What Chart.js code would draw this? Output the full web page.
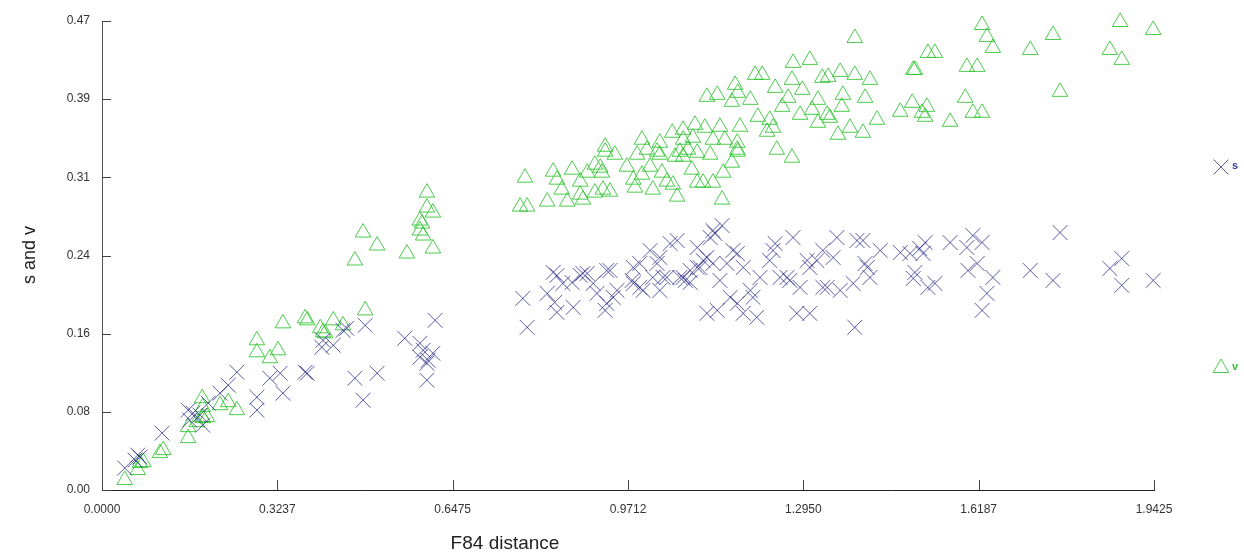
<!DOCTYPE html>
<html>
<head>
<meta charset="utf-8">
<script src="https://cdn.jsdelivr.net/npm/chart.js@4.4.1/dist/chart.umd.min.js"></script>
<style>
  html, body { margin: 0; padding: 0; background: #fff; }
  #wrap { width: 1244px; height: 554px; }
</style>
</head>
<body>
<div id="wrap"><canvas id="chart" width="1244" height="554"></canvas></div>
<script>
// Axis ranges and tick labels as printed on the reference
const X_MAX = 1.9425;
const Y_MAX = 0.47;
const xTickLabels = ['0.0000', '0.3237', '0.6475', '0.9712', '1.2950', '1.6187', '1.9425'];
const yTickLabels = ['0.00', '0.08', '0.16', '0.24', '0.31', '0.39', '0.47'];
const xTitle = 'F84 distance';
const yTitle = 's and v';
const seriesNames = ['s', 'v'];

// s (crosses): [F84 distance, value]
const sPoints = [
    [0.042, 0.022], [0.066, 0.035], [0.070, 0.033], [0.061, 0.030], [0.111, 0.057],
    [0.159, 0.080], [0.168, 0.077], [0.162, 0.070], [0.186, 0.065], [0.181, 0.075],
    [0.196, 0.087], [0.218, 0.097], [0.233, 0.105], [0.249, 0.118], [0.286, 0.093],
    [0.286, 0.080], [0.310, 0.112], [0.329, 0.117], [0.334, 0.097], [0.375, 0.118],
    [0.379, 0.117], [0.406, 0.143], [0.408, 0.150], [0.427, 0.145], [0.445, 0.160],
    [0.452, 0.162], [0.467, 0.112], [0.486, 0.165], [0.482, 0.090], [0.508, 0.117],
    [0.559, 0.152], [0.587, 0.147], [0.593, 0.140], [0.587, 0.133], [0.602, 0.130],
    [0.611, 0.137], [0.600, 0.110], [0.615, 0.170], [0.600, 0.127],
    [0.777, 0.192], [0.785, 0.163], [0.822, 0.197], [0.836, 0.188], [0.840, 0.178],
    [0.851, 0.207], [0.868, 0.208], [0.870, 0.183], [0.883, 0.215], [0.888, 0.217],
    [0.896, 0.217], [0.907, 0.207], [0.914, 0.197], [0.929, 0.180], [0.932, 0.187],
    [0.938, 0.220], [0.944, 0.193], [0.833, 0.218], [0.840, 0.215],
    [0.979, 0.210], [0.981, 0.207], [0.993, 0.227], [0.999, 0.200], [1.012, 0.240],
    [1.017, 0.213], [1.030, 0.233], [1.043, 0.213], [1.049, 0.247], [1.062, 0.250],
    [1.067, 0.213], [1.077, 0.210], [1.086, 0.220], [1.099, 0.243], [1.104, 0.223],
    [1.117, 0.233], [1.123, 0.253], [1.128, 0.227], [1.132, 0.257], [1.141, 0.210],
    [1.145, 0.265], [1.154, 0.227], [1.165, 0.240], [1.173, 0.237],
    [0.932, 0.220], [0.981, 0.223], [0.993, 0.203], [1.025, 0.227], [1.036, 0.213],
    [1.073, 0.213], [1.086, 0.208], [1.099, 0.223], [1.110, 0.230], [1.128, 0.260],
    [1.184, 0.223], [1.197, 0.200], [1.265, 0.213], [1.302, 0.230], [1.331, 0.203],
    [0.951, 0.200], [1.030, 0.200],
    [1.117, 0.177], [1.136, 0.180], [1.160, 0.193], [1.173, 0.187], [1.184, 0.177],
    [1.202, 0.193], [1.209, 0.173], [1.215, 0.213], [1.233, 0.230], [1.239, 0.240],
    [1.243, 0.247], [1.252, 0.213], [1.270, 0.210], [1.276, 0.253], [1.283, 0.177],
    [1.307, 0.177], [1.289, 0.203], [1.307, 0.223], [1.320, 0.230], [1.331, 0.240],
    [1.350, 0.233], [1.357, 0.253], [1.339, 0.203], [1.363, 0.200], [1.394, 0.250],
    [1.387, 0.207], [1.405, 0.250], [1.413, 0.223], [1.418, 0.213], [1.390, 0.163],
    [1.437, 0.240], [1.409, 0.227], [1.474, 0.238], [1.492, 0.237], [1.510, 0.242],
    [1.520, 0.248], [1.516, 0.237], [1.501, 0.218], [1.498, 0.212], [1.525, 0.203],
    [1.538, 0.207], [1.566, 0.248], [1.597, 0.243], [1.608, 0.255], [1.625, 0.248],
    [1.599, 0.220], [1.616, 0.227], [1.645, 0.213], [1.634, 0.197], [1.625, 0.180],
    [1.714, 0.220], [1.769, 0.258], [1.756, 0.210], [1.861, 0.222], [1.883, 0.232],
    [1.883, 0.205], [1.941, 0.210]
];

// v (triangles): [F84 distance, value]
const vPoints = [
    [0.042, 0.010], [0.066, 0.020], [0.070, 0.027], [0.076, 0.028], [0.107, 0.037],
    [0.113, 0.040], [0.159, 0.052], [0.159, 0.063], [0.175, 0.068], [0.185, 0.073],
    [0.186, 0.072], [0.194, 0.073], [0.185, 0.092], [0.186, 0.083], [0.218, 0.085],
    [0.233, 0.088], [0.249, 0.080], [0.286, 0.150], [0.286, 0.138], [0.310, 0.132],
    [0.325, 0.140], [0.334, 0.167], [0.375, 0.172], [0.379, 0.170], [0.403, 0.162],
    [0.408, 0.158], [0.412, 0.157], [0.427, 0.170], [0.445, 0.165], [0.486, 0.180],
    [0.467, 0.230], [0.482, 0.258], [0.508, 0.245], [0.563, 0.237], [0.600, 0.298],
    [0.600, 0.283], [0.611, 0.278], [0.587, 0.270], [0.591, 0.267], [0.587, 0.260],
    [0.593, 0.255], [0.611, 0.242],
    [0.781, 0.313], [0.772, 0.284], [0.785, 0.284], [0.822, 0.289], [0.833, 0.319],
    [0.840, 0.311], [0.849, 0.301], [0.859, 0.289], [0.868, 0.321], [0.883, 0.309],
    [0.883, 0.296], [0.888, 0.291], [0.896, 0.318], [0.910, 0.326], [0.910, 0.298],
    [0.923, 0.318], [0.938, 0.299], [0.929, 0.339], [0.947, 0.336], [0.925, 0.301],
    [0.920, 0.323], [0.929, 0.344], [0.969, 0.324], [0.981, 0.311], [0.988, 0.336],
    [0.984, 0.303], [0.997, 0.316], [0.997, 0.351], [1.006, 0.341], [1.017, 0.301],
    [1.012, 0.324], [1.030, 0.336], [1.030, 0.348], [1.034, 0.318], [1.043, 0.309],
    [1.054, 0.306], [1.062, 0.294], [1.058, 0.334], [1.073, 0.334], [1.053, 0.358],
    [1.073, 0.361], [1.095, 0.366], [1.113, 0.363], [1.141, 0.364], [1.178, 0.364],
    [1.073, 0.351], [1.091, 0.353], [1.128, 0.351], [1.150, 0.351], [1.173, 0.348],
    [1.174, 0.339], [1.025, 0.339], [1.067, 0.339], [1.082, 0.341], [1.099, 0.338],
    [1.123, 0.336], [1.163, 0.328], [1.089, 0.321], [1.099, 0.308], [1.110, 0.308],
    [1.128, 0.308], [1.145, 0.291], [1.147, 0.318], [1.173, 0.341], [1.246, 0.341],
    [1.274, 0.333],
    [1.117, 0.394], [1.136, 0.396], [1.169, 0.406], [1.174, 0.398], [1.163, 0.389],
    [1.197, 0.391], [1.211, 0.374], [1.233, 0.371], [1.239, 0.363], [1.228, 0.359],
    [1.206, 0.416], [1.219, 0.416], [1.243, 0.403], [1.274, 0.411], [1.293, 0.401],
    [1.256, 0.384], [1.267, 0.393], [1.289, 0.376], [1.311, 0.381], [1.322, 0.391],
    [1.330, 0.413], [1.341, 0.414], [1.363, 0.419], [1.390, 0.416], [1.418, 0.411],
    [1.368, 0.396], [1.409, 0.393], [1.366, 0.384], [1.339, 0.376], [1.344, 0.373],
    [1.322, 0.368], [1.381, 0.363], [1.405, 0.358], [1.359, 0.356], [1.431, 0.371],
    [1.276, 0.428], [1.307, 0.431], [1.390, 0.453],
    [1.625, 0.466], [1.634, 0.454], [1.645, 0.443], [1.714, 0.441], [1.756, 0.456],
    [1.880, 0.469], [1.941, 0.461], [1.861, 0.441], [1.883, 0.431], [1.769, 0.399],
    [1.525, 0.438], [1.538, 0.438], [1.498, 0.421], [1.501, 0.421], [1.597, 0.424],
    [1.616, 0.424], [1.474, 0.379], [1.496, 0.388], [1.523, 0.384], [1.514, 0.378],
    [1.520, 0.374], [1.566, 0.369], [1.594, 0.393], [1.608, 0.378], [1.625, 0.378]
];

const COLORS = {
    s: 'rgba(35, 35, 135, 0.75)',
    sText: '#3b3ba0',
    v: 'rgba(45, 195, 45, 0.85)',
    vText: '#3fbf3f',
    axis: '#555',
    axisBottom: '#222',
    text: '#333'
};

const FONT = '"Liberation Sans", Arial, sans-serif';

const MARKERS = {
    s: { pointStyle: 'crossRot', radius: 10.5, borderWidth: 1 },
    v: { pointStyle: 'triangle', radius: 9, borderWidth: 1 }
};

const toXY = pts => pts.map(p => ({ x: p[0], y: p[1] }));

// inward tick marks, axis titles and the two separated legend entries
const decorPlugin = {
    id: 'decor',
    afterDraw(chart) {
        const { ctx, chartArea: a, scales } = chart;
        const x = scales.x, y = scales.y;
        ctx.save();
        ctx.lineWidth = 1;
        ctx.strokeStyle = '#444';
        ctx.beginPath();
        y.ticks.forEach(t => {
            const py = Math.round(y.getPixelForValue(t.value)) + 0.5;
            ctx.moveTo(a.left, py);
            ctx.lineTo(a.left + 9, py);
        });
        x.ticks.forEach(t => {
            const px = Math.round(x.getPixelForValue(t.value)) + 0.5;
            ctx.moveTo(px, a.bottom);
            ctx.lineTo(px, a.bottom - 10);
        });
        ctx.stroke();

        ctx.fillStyle = '#222';
        ctx.font = '19px ' + FONT;
        ctx.textAlign = 'center';
        ctx.textBaseline = 'middle';
        ctx.fillText(xTitle, 505, 544);
        ctx.save();
        ctx.translate(30, 255);
        ctx.rotate(-Math.PI / 2);
        ctx.font = '18px ' + FONT;
        ctx.fillText(yTitle, 0, 0);
        ctx.restore();

        // legend
        const entries = [
            { name: seriesNames[0], m: MARKERS.s, color: COLORS.s, text: COLORS.sText, y: 167 },
            { name: seriesNames[1], m: MARKERS.v, color: COLORS.v, text: COLORS.vText, y: 368 }
        ];
        ctx.font = 'bold 11px ' + FONT;
        ctx.textAlign = 'left';
        entries.forEach(e => {
            ctx.strokeStyle = e.color;
            ctx.fillStyle = 'rgba(0,0,0,0)';
            ctx.lineWidth = e.m.borderWidth;
            Chart.helpers.drawPoint(ctx, {
                pointStyle: e.m.pointStyle,
                radius: e.m.radius,
                rotation: 0,
                borderWidth: e.m.borderWidth
            }, 1221, e.y);
            ctx.fillStyle = e.text;
            ctx.fillText(e.name, 1232, e.y - 1);
        });
        ctx.restore();
    }
};

new Chart(document.getElementById('chart'), {
    type: 'scatter',
    data: {
        datasets: [
            {
                label: seriesNames[0],
                data: toXY(sPoints),
                pointStyle: MARKERS.s.pointStyle,
                pointRadius: MARKERS.s.radius,
                pointBorderWidth: MARKERS.s.borderWidth,
                borderColor: COLORS.s,
                backgroundColor: 'transparent',
                clip: false
            },
            {
                label: seriesNames[1],
                data: toXY(vPoints),
                pointStyle: MARKERS.v.pointStyle,
                pointRadius: MARKERS.v.radius,
                pointBorderWidth: MARKERS.v.borderWidth,
                borderColor: COLORS.v,
                backgroundColor: 'transparent',
                clip: false
            }
        ]
    },
    options: {
        responsive: false,
        animation: false,
        devicePixelRatio: 1,
        layout: { padding: { left: 0, top: 21, right: 90, bottom: 0 } },
        plugins: {
            legend: { display: false },
            tooltip: { enabled: false }
        },
        scales: {
            x: {
                type: 'linear',
                min: 0,
                max: X_MAX,
                afterBuildTicks: s => {
                    s.ticks = xTickLabels.map((_, i) => ({ value: i * X_MAX / (xTickLabels.length - 1) }));
                },
                afterFit: s => { s.height = 64; },
                ticks: {
                    callback: (v, i) => xTickLabels[i],
                    color: COLORS.text,
                    font: { family: FONT, size: 12 },
                    padding: 12,
                    maxRotation: 0,
                    autoSkip: false
                },
                grid: { display: false, drawTicks: false },
                border: { display: true, color: COLORS.axisBottom, width: 1 }
            },
            y: {
                type: 'linear',
                min: 0,
                max: Y_MAX,
                afterBuildTicks: s => {
                    s.ticks = yTickLabels.map((_, i) => ({ value: i * Y_MAX / (yTickLabels.length - 1) }));
                },
                afterFit: s => { s.width = 102; },
                ticks: {
                    callback: (v, i) => yTickLabels[i],
                    color: COLORS.text,
                    font: { family: FONT, size: 12 },
                    padding: 12,
                    autoSkip: false
                },
                grid: { display: false, drawTicks: false },
                border: { display: true, color: COLORS.axis, width: 1 }
            }
        }
    },
    plugins: [decorPlugin]
});
</script>
</body>
</html>
